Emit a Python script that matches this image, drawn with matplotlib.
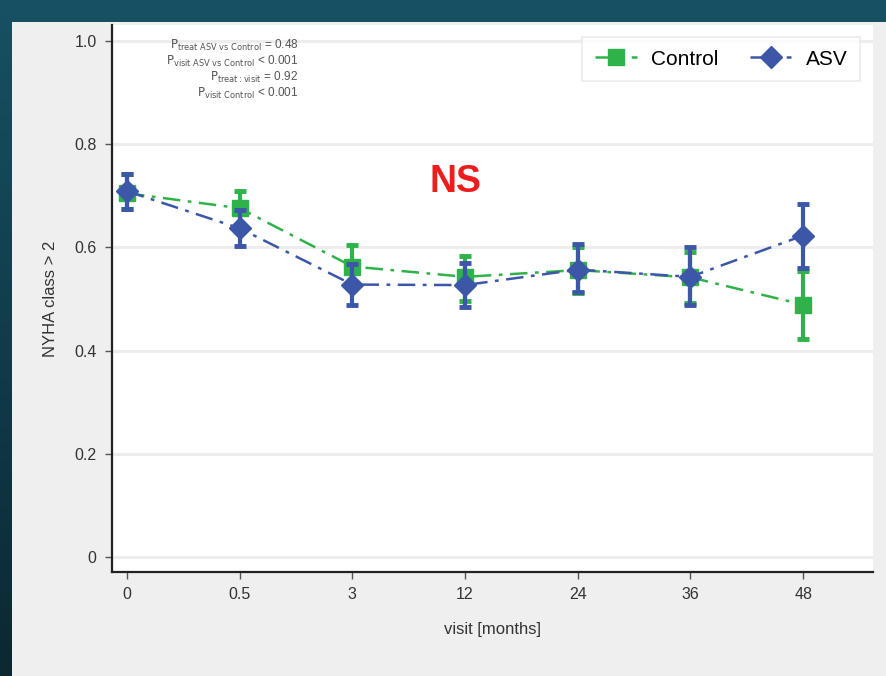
import matplotlib
matplotlib.use("Agg")
import matplotlib.pyplot as plt
import numpy as np
from matplotlib.patches import Rectangle
from matplotlib.colors import LinearSegmentedColormap

plt.rcParams['font.family'] = ['Liberation Sans', 'DejaVu Sans']

visits = ["0", "0.5", "3", "12", "24", "36", "48"]

control_mean = [0.705, 0.676, 0.563, 0.543, 0.556, 0.542, 0.489]
control_lo = [0.674, 0.642, 0.522, 0.497, 0.512, 0.492, 0.423]
control_hi = [0.742, 0.709, 0.604, 0.583, 0.600, 0.592, 0.555]

asv_mean = [0.709, 0.637, 0.528, 0.527, 0.557, 0.543, 0.623]
asv_lo = [0.674, 0.602, 0.489, 0.485, 0.513, 0.489, 0.561]
asv_hi = [0.742, 0.672, 0.568, 0.570, 0.606, 0.600, 0.685]

y_ticks = [0, 0.2, 0.4, 0.6, 0.8, 1.0]
y_ticklabels = ["0", "0.2", "0.4", "0.6", "0.8", "1.0"]

p_lines = [
    r"$\mathrm{P}_{\mathrm{treat\ ASV\ vs\ Control}}$ = 0.48",
    r"$\mathrm{P}_{\mathrm{visit\ ASV\ vs\ Control}}$ < 0.001",
    r"$\mathrm{P}_{\mathrm{treat:visit}}$ = 0.92",
    r"$\mathrm{P}_{\mathrm{visit\ Control}}$ < 0.001",
]

GREEN = "#2fb24a"
BLUE = "#3c56a8"

fig = plt.figure(figsize=(8.86, 6.76), dpi=100)
fig.patch.set_facecolor("#efefef")

# dark teal frame along the top and left edges
grad = LinearSegmentedColormap.from_list("frame", ["#175163", "#0b2833"])
bg = fig.add_axes([0, 0, 1, 1], zorder=-5)
bg.imshow(np.linspace(0, 1, 256)[:, None], aspect="auto", cmap=grad,
          extent=[0, 1, 0, 1], origin="upper")
bg.add_patch(Rectangle((12 / 886, 0), 1, 1 - 22 / 676, color="#efefef", lw=0))
bg.set_xlim(0, 1)
bg.set_ylim(0, 1)
bg.axis("off")

ax = fig.add_axes([112 / 886, 104 / 676, (873 - 112) / 886, (572 - 25) / 676])
ax.set_facecolor("white")
x = np.arange(len(visits))

for y in y_ticks:
    ax.axhline(y, color="#ededed", lw=2.2, zorder=0)

def draw(mean, lo, hi, color, marker, ms, label, z):
    mean = np.array(mean)
    yerr = np.vstack([mean - np.array(lo), np.array(hi) - mean])
    ax.errorbar(x, mean, yerr=yerr, fmt="none", ecolor=color, elinewidth=3,
                capsize=4.5, capthick=3.5, zorder=z)
    ax.plot(x, mean, color=color, lw=1.8, ls=(0, (7, 3, 1.5, 3)),
            marker=marker, ms=ms, mfc=color, mec=color, label=label, zorder=z + 0.5)

draw(control_mean, control_lo, control_hi, GREEN, "s", 12, "Control", 3)
draw(asv_mean, asv_lo, asv_hi, BLUE, "D", 11, "ASV", 4)

ax.set_xlim(-0.133, 6.62)
ax.set_ylim(-0.029, 1.031)
ax.set_xticks(x)
ax.set_xticklabels(visits)
ax.set_yticks(y_ticks)
ax.set_yticklabels(y_ticklabels)
ax.tick_params(axis="both", direction="out", length=5, width=1, color="#555555",
               labelsize=11.5, labelcolor="#333333", pad=6)
for s in ["top", "right"]:
    ax.spines[s].set_visible(False)
for s in ["left", "bottom"]:
    ax.spines[s].set_linewidth(1.6)
    ax.spines[s].set_color("#222222")

ax.set_xlabel("visit [months]", fontsize=12, color="#333333", labelpad=14)
ax.set_ylabel("NYHA class > 2", fontsize=12, color="#333333", labelpad=12)

leg = ax.legend(loc="upper right", ncol=2, fontsize=15, frameon=True,
                fancybox=False, edgecolor="#e6e6e6", handlelength=2.0,
                columnspacing=1.5, handletextpad=0.7, borderpad=0.6,
                bbox_to_anchor=(0.997, 0.997))
leg.get_frame().set_linewidth(1.2)

ax.text(0.245, 0.977, "\n".join(p_lines), transform=ax.transAxes, ha="right",
        va="top", fontsize=8.5, color="#555555", linespacing=1.1,
        multialignment="right")

ax.annotate("NS", xy=(455 / 886, 1 - 182 / 676), xycoords="figure fraction",
            ha="center", va="center", fontsize=27, fontweight="bold", color="#ee1c1c")

fig.savefig("out.png", dpi=100, facecolor=fig.get_facecolor())
